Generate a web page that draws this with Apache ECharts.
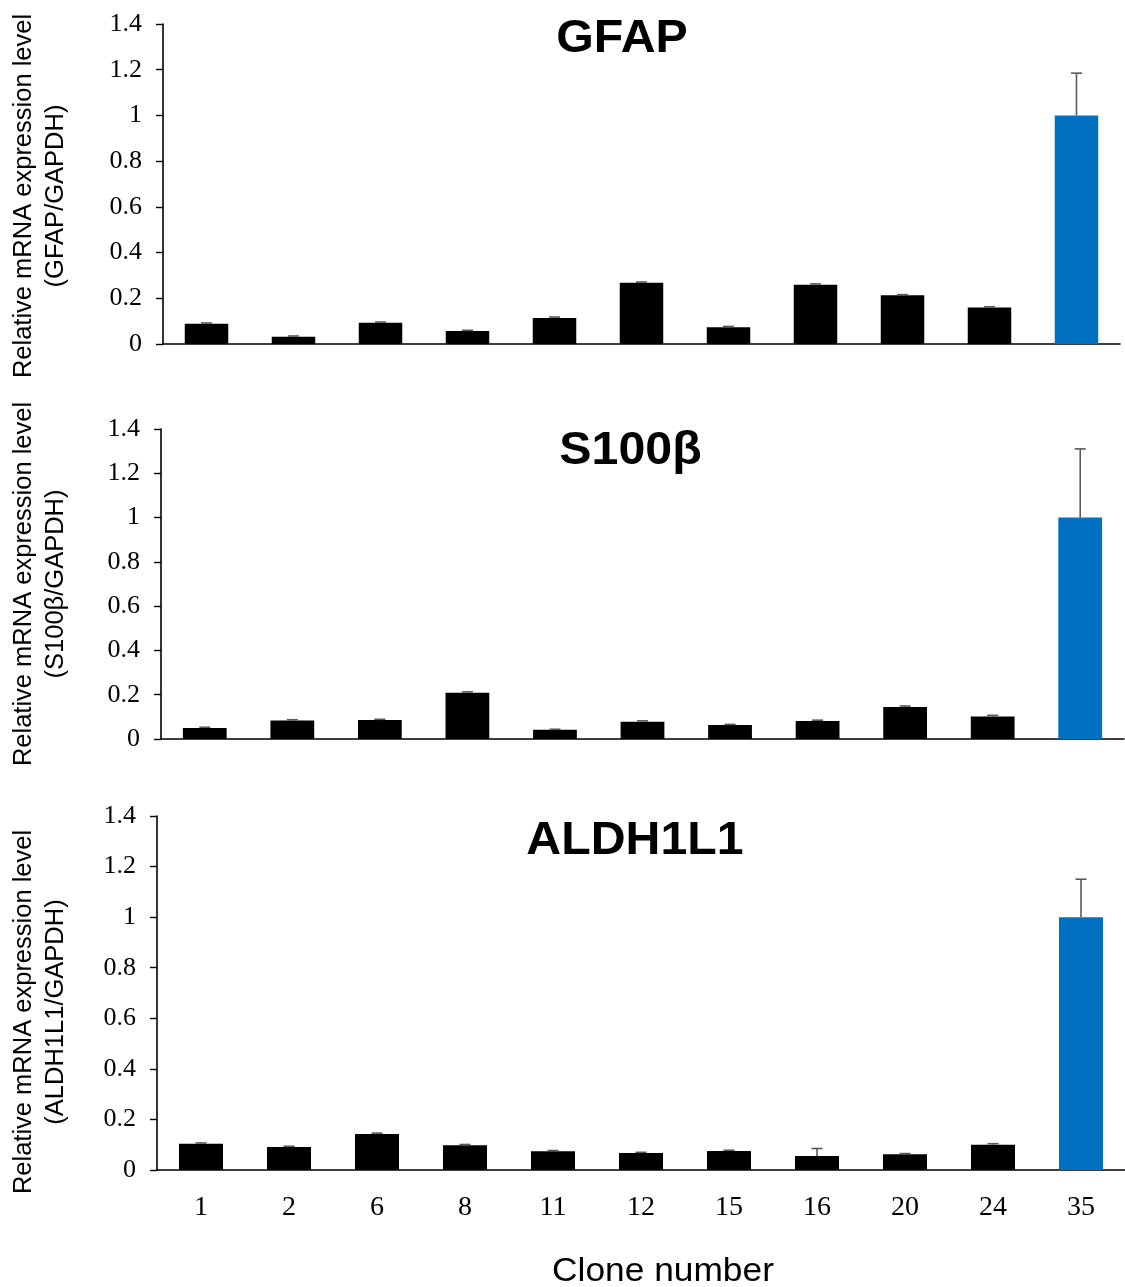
<!DOCTYPE html>
<html>
<head>
<meta charset="utf-8">
<script src="https://cdn.jsdelivr.net/npm/echarts@6/dist/echarts.min.js"></script>
<style>
  html, body { margin: 0; padding: 0; background: #fff; }
  #chart { width: 1125px; height: 1287px; }
</style>
</head>
<body>
<div id="chart"></div>
<script>
// ---- data ----
const categories = ['1', '2', '6', '8', '11', '12', '15', '16', '20', '24', '35'];
const yTicks = [0, 0.2, 0.4, 0.6, 0.8, 1, 1.2, 1.4];

const gfapValues = [0.089, 0.032, 0.093, 0.057, 0.114, 0.268, 0.073, 0.259, 0.213, 0.160, 1.0];
const gfapErrors = [0.003, 0.003, 0.003, 0.003, 0.004, 0.003, 0.004, 0.004, 0.003, 0.003, 0.185];

const s100Values = [0.050, 0.084, 0.086, 0.209, 0.042, 0.078, 0.063, 0.081, 0.144, 0.102, 1.0];
const s100Errors = [0.003, 0.003, 0.003, 0.004, 0.002, 0.004, 0.003, 0.004, 0.005, 0.005, 0.31];

const aldhValues = [0.104, 0.091, 0.142, 0.098, 0.074, 0.067, 0.075, 0.055, 0.062, 0.100, 1.0];
const aldhErrors = [0.003, 0.003, 0.004, 0.003, 0.003, 0.003, 0.003, 0.030, 0.003, 0.004, 0.15];

const panelTitles = ['GFAP', 'S100\u03b2', 'ALDH1L1'];
const yNames = [
  'Relative mRNA expression level\n(GFAP/GAPDH)',
  'Relative mRNA expression level\n(S100\u03b2/GAPDH)',
  'Relative mRNA expression level\n(ALDH1L1/GAPDH)'
];
const xName = 'Clone number';
const highlightIndex = 10;

// ---- layout ----
const grids = [
  { left: 163, top: 24, width: 957, height: 320 },
  { left: 161, top: 429, width: 963, height: 310 },
  { left: 157, top: 816, width: 971, height: 354 }
];
const titlePos = [[622, 39], [630.5, 451], [635, 841]];
const yNamePos = [[40, 196], [40, 584], [40, 1012]];

const BLACK = '#000000';
const BLUE = '#0070C0';
const SERIF = '"Liberation Serif", "Times New Roman", serif';
const SANS = '"Liberation Sans", Arial, sans-serif';

const valueSets = [gfapValues, s100Values, aldhValues];
const errorSets = [gfapErrors, s100Errors, aldhErrors];

const option = {
  animation: false,
  backgroundColor: '#ffffff',
  grid: grids.map(g => Object.assign({ containLabel: false }, g)),
  xAxis: grids.map((g, i) => ({
    type: 'category',
    gridIndex: i,
    data: categories,
    axisLine: { show: true, lineStyle: { color: BLACK, width: 1.6 } },
    axisTick: { show: false },
    axisLabel: {
      show: i === 2,
      color: BLACK,
      fontFamily: SERIF,
      fontSize: 28,
      margin: 24
    },
    splitLine: { show: false }
  })),
  yAxis: grids.map((g, i) => ({
    type: 'value',
    gridIndex: i,
    min: yTicks[0],
    max: yTicks[yTicks.length - 1],
    interval: 0.2,
    axisLine: { show: true, lineStyle: { color: BLACK, width: 1.6 } },
    axisTick: { show: true, inside: false, length: 7, lineStyle: { color: BLACK, width: 1.4 } },
    axisLabel: {
      color: BLACK,
      fontFamily: SERIF,
      fontSize: 26,
      margin: 21
    },
    splitLine: { show: false }
  })),
  series: [],
  graphic: []
};

valueSets.forEach((vals, i) => {
  option.series.push({
    type: 'bar',
    xAxisIndex: i,
    yAxisIndex: i,
    barWidth: '50%',
    data: vals.map((v, k) => ({
      value: v,
      itemStyle: { color: k === highlightIndex ? BLUE : BLACK }
    })),
    z: 2
  });
  const errs = errorSets[i];
  option.series.push({
    type: 'custom',
    xAxisIndex: i,
    yAxisIndex: i,
    data: vals.map((v, k) => [k, v, v + errs[k]]),
    z: 3,
    renderItem: function (params, api) {
      const x = api.value(0);
      const p0 = api.coord([x, api.value(1)]);
      const p1 = api.coord([x, api.value(2)]);
      const half = 5.5;
      const st = { stroke: '#5a5a5a', lineWidth: 1.6 };
      return {
        type: 'group',
        children: [
          { type: 'line', shape: { x1: p0[0], y1: p0[1], x2: p1[0], y2: p1[1] }, style: st },
          { type: 'line', shape: { x1: p1[0] - half, y1: p1[1], x2: p1[0] + half, y2: p1[1] }, style: st }
        ]
      };
    }
  });
});

panelTitles.forEach((t, i) => {
  option.graphic.push({
    type: 'text',
    x: titlePos[i][0],
    y: titlePos[i][1],
    scaleX: 1.05,
    style: {
      text: t,
      font: 'bold 46px ' + SANS,
      fill: BLACK,
      textAlign: 'center',
      textVerticalAlign: 'middle'
    }
  });
});

yNames.forEach((t, i) => {
  option.graphic.push({
    type: 'text',
    x: yNamePos[i][0],
    y: yNamePos[i][1],
    rotation: Math.PI / 2,
    style: {
      text: t,
      font: '25.5px ' + SANS,
      lineHeight: 32,
      fill: BLACK,
      textAlign: 'center',
      textVerticalAlign: 'middle'
    }
  });
});

option.graphic.push({
  type: 'text',
  x: 663,
  y: 1272,
  scaleX: 1.07,
  style: {
    text: xName,
    font: '33px ' + SANS,
    fill: BLACK,
    textAlign: 'center',
    textVerticalAlign: 'middle'
  }
});

const chart = echarts.init(document.getElementById('chart'), null, { renderer: 'canvas' });
chart.setOption(option);
</script>
</body>
</html>
